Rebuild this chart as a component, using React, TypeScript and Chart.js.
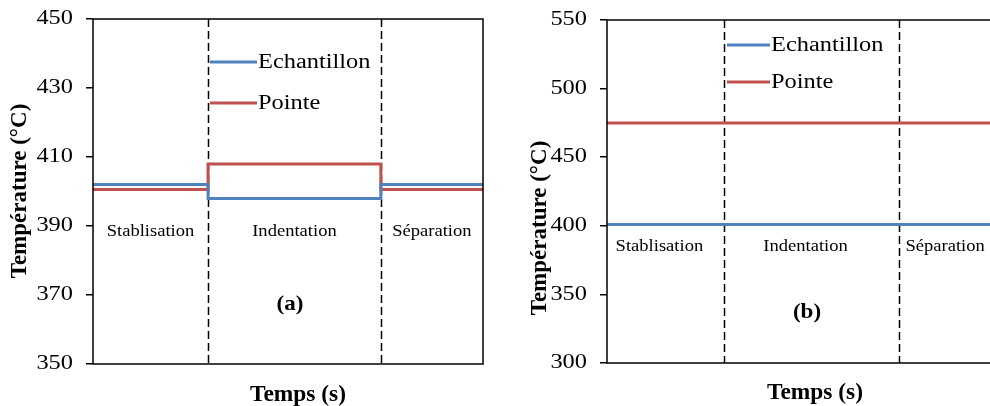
import React, { useEffect, useRef } from "react";
import { Chart, registerables } from "chart.js";
Chart.register(...registerables);

// ---------- data ----------
const seriesNames = ["Echantillon", "Pointe"];
const seriesColors = ["#4F81BD", "#C0504D"];
const phaseNames = ["Stablisation", "Indentation", "Séparation"];
const phaseBounds = [0, 29.5, 73.8, 100];

const timeA = [0, 29.5, 73.8, 100];
const echantillonA = [402, 398, 402, 402];
const pointeA = [400.6, 408, 400.6, 400.6];
const yTicksA = [350, 370, 390, 410, 430, 450];

const timeB = [0, 29.5, 73.8, 100];
const echantillonB = [401, 401, 401, 401];
const pointeB = [475, 475, 475, 475];
const yTicksB = [300, 350, 400, 450, 500, 550];

const xTitle = "Temps (s)";
const yTitle = "Température (°C)";

const FONT = "'Liberation Serif', 'Times New Roman', serif";

type Panel = {
  left: number;
  width: number;
  time: number[];
  ech: number[];
  pte: number[];
  yTicks: number[];
  letter: string;
  yAxisWidth: number;
  pad: { top: number; right: number; bottom: number };
  legendX: [number, number];
  legendY: [number, number];
  phaseY: number;
  letterPos: [number, number];
  xTitlePos: [number, number];
  yTitlePos: [number, number];
  phaseShift: number;
};

const panels: Panel[] = [
  {
    left: 0,
    width: 500,
    time: timeA,
    ech: echantillonA,
    pte: pointeA,
    yTicks: yTicksA,
    letter: "(a)",
    yAxisWidth: 93,
    pad: { top: 19, right: 17, bottom: 42 },
    legendX: [210, 257],
    legendY: [62, 103],
    phaseY: 231,
    letterPos: [290, 305],
    xTitlePos: [298, 395],
    yTitlePos: [20, 191],
    phaseShift: 0,
  },
  {
    left: 500,
    width: 510,
    time: timeB,
    ech: echantillonB,
    pte: pointeB,
    yTicks: yTicksB,
    letter: "(b)",
    yAxisWidth: 107,
    pad: { top: 20, right: 7, bottom: 43 },
    legendX: [227, 270],
    legendY: [45, 82],
    phaseY: 246,
    letterPos: [307, 313],
    xTitlePos: [315, 393],
    yTitlePos: [40, 228],
    phaseShift: -6,
  },
];

function drawText(ctx: CanvasRenderingContext2D, text: string, x: number, y: number, font: string, sx: number, align: CanvasTextAlign) {
  ctx.save();
  ctx.translate(x, y);
  ctx.scale(sx, 1);
  ctx.font = font;
  ctx.textAlign = align;
  ctx.textBaseline = "middle";
  ctx.fillStyle = "#000";
  ctx.fillText(text, 0, 0);
  ctx.restore();
}

function makeChart(canvas: HTMLCanvasElement, p: Panel) {
  const decor = {
    id: "decor",
    beforeDatasetsDraw(chart: any) {
      const { ctx, chartArea, scales } = chart;
      ctx.save();
      ctx.strokeStyle = "#000";
      ctx.lineWidth = 1.5;
      ctx.setLineDash([8, 4]);
      for (let i = 1; i < phaseBounds.length - 1; i++) {
        const x = Math.round(scales.x.getPixelForValue(phaseBounds[i])) + 0.5;
        ctx.beginPath();
        ctx.moveTo(x, chartArea.top);
        ctx.lineTo(x, chartArea.bottom);
        ctx.stroke();
      }
      ctx.restore();
    },
    afterDraw(chart: any) {
      const { ctx, chartArea, scales } = chart;
      ctx.save();
      // frame
      ctx.strokeStyle = "#000";
      ctx.lineWidth = 1.5;
      ctx.strokeRect(chartArea.left, chartArea.top, chartArea.right - chartArea.left, chartArea.bottom - chartArea.top);
      ctx.restore();
      // y tick labels (from the library's scale ticks)
      const ys = scales.y;
      for (const t of ys.ticks) {
        drawText(ctx, String(t.value), chartArea.left - 20, ys.getPixelForValue(t.value), `20px ${FONT}`, 1.22, "right");
      }
      // legend
      for (let i = 0; i < seriesNames.length; i++) {
        ctx.save();
        ctx.strokeStyle = seriesColors[i];
        ctx.lineWidth = 3;
        ctx.beginPath();
        ctx.moveTo(p.legendX[0], p.legendY[i]);
        ctx.lineTo(p.legendX[1], p.legendY[i]);
        ctx.stroke();
        ctx.restore();
        drawText(ctx, seriesNames[i], p.legendX[1] + 1, p.legendY[i] + 1, `20px ${FONT}`, 1.22, "left");
      }
      // phase labels
      for (let i = 0; i < phaseNames.length; i++) {
        const x0 = scales.x.getPixelForValue(phaseBounds[i]);
        const x1 = scales.x.getPixelForValue(phaseBounds[i + 1]);
        drawText(ctx, phaseNames[i], (x0 + x1) / 2 + p.phaseShift, p.phaseY, `17.5px ${FONT}`, 1.06, "center");
      }
      // panel letter
      drawText(ctx, p.letter, p.letterPos[0], p.letterPos[1], `bold 21px ${FONT}`, 1.1, "center");
      // x title
      drawText(ctx, xTitle, p.xTitlePos[0], p.xTitlePos[1], `bold 22.5px ${FONT}`, 1.04, "center");
      // y title
      ctx.save();
      ctx.translate(p.yTitlePos[0], p.yTitlePos[1]);
      ctx.rotate(-Math.PI / 2);
      drawText(ctx, yTitle, 0, 0, `bold 23px ${FONT}`, 1, "center");
      ctx.restore();
    },
  };

  return new Chart(canvas, {
    type: "line",
    data: {
      datasets: [
        {
          label: seriesNames[0],
          data: p.time.map((t, i) => ({ x: t, y: p.ech[i] })),
          borderColor: seriesColors[0],
          borderWidth: 3,
          pointRadius: 0,
          stepped: true,
          fill: false,
        },
        {
          label: seriesNames[1],
          data: p.time.map((t, i) => ({ x: t, y: p.pte[i] })),
          borderColor: seriesColors[1],
          borderWidth: 3,
          pointRadius: 0,
          stepped: true,
          fill: false,
        },
      ],
    },
    options: {
      animation: false,
      responsive: false,
      maintainAspectRatio: false,
      events: [],
      layout: { padding: { left: 0, top: p.pad.top, right: p.pad.right, bottom: p.pad.bottom } },
      plugins: { legend: { display: false }, tooltip: { enabled: false }, title: { display: false } },
      scales: {
        x: {
          type: "linear",
          display: false,
          min: phaseBounds[0],
          max: phaseBounds[phaseBounds.length - 1],
        },
        y: {
          type: "linear",
          min: p.yTicks[0],
          max: p.yTicks[p.yTicks.length - 1],
          afterBuildTicks: (scale: any) => {
            scale.ticks = p.yTicks.map((v) => ({ value: v }));
          },
          afterFit: (scale: any) => {
            scale.width = p.yAxisWidth;
            scale.paddingTop = 0;
            scale.paddingBottom = 0;
          },
          border: { display: false },
          grid: {
            drawOnChartArea: false,
            drawTicks: true,
            tickLength: 7,
            color: "#000",
            lineWidth: 1.5,
          },
          ticks: {
            display: false,
            padding: 0,
          },
        },
      },
    },
    plugins: [decor],
  } as any);
}

function PanelCanvas({ p }: { p: Panel }) {
  const ref = useRef<HTMLCanvasElement>(null);
  useEffect(() => {
    const chart = makeChart(ref.current!, p);
    return () => chart.destroy();
  }, [p]);
  return (
    <canvas
      ref={ref}
      width={p.width}
      height={406}
      style={{ position: "absolute", left: p.left, top: 0, width: p.width, height: 406 }}
    />
  );
}

export default function App() {
  return (
    <div
      style={{
        position: "absolute",
        left: 0,
        top: 0,
        width: 990,
        height: 406,
        overflow: "hidden",
        background: "#fff",
      }}
    >
      {panels.map((p, i) => (
        <PanelCanvas key={i} p={p} />
      ))}
    </div>
  );
}
